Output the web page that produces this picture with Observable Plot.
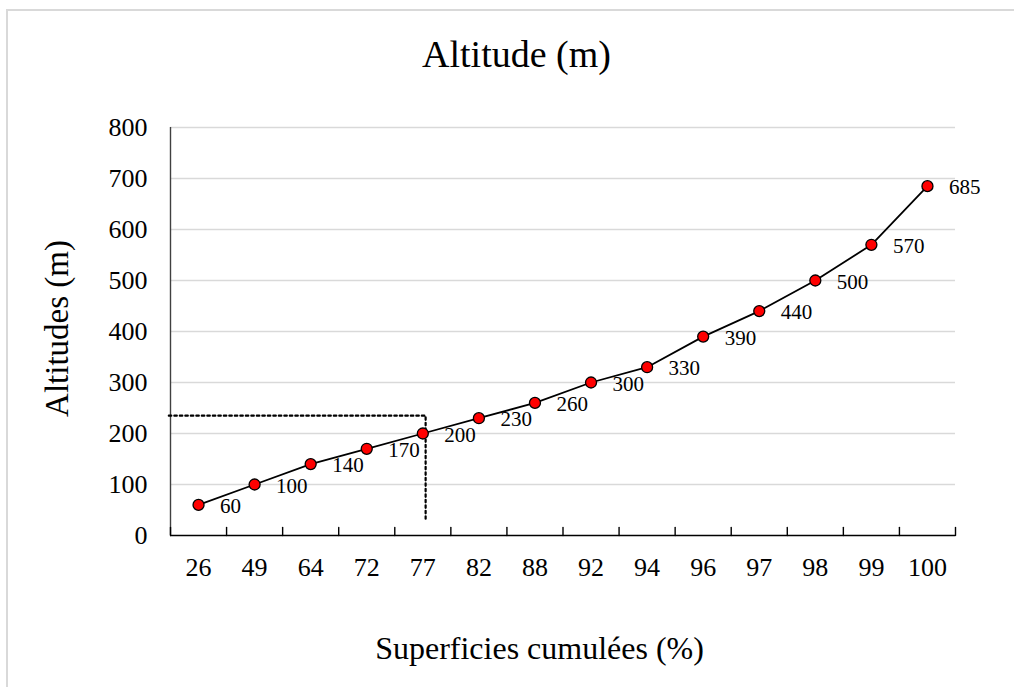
<!DOCTYPE html>
<html>
<head>
<meta charset="utf-8">
<script src="https://cdn.jsdelivr.net/npm/d3@7"></script>
<script src="https://cdn.jsdelivr.net/npm/@observablehq/plot@0.6"></script>
<style>
  html, body { margin: 0; padding: 0; background: #fff; }
  #chart { position: relative; width: 1014px; height: 687px; overflow: hidden; }
  #chart svg { position: absolute; left: 0; top: 0; }
  #frame { position: absolute; left: 6px; top: 9px; width: 1100px; height: 800px;
           border: 2px solid #d9d9d9; pointer-events: none; }
</style>
</head>
<body>
<div id="chart"></div>
<script>
// Cumulative area (%) categories and the altitude reached at each one
const categories = ["26", "49", "64", "72", "77", "82", "88", "92", "94", "96", "97", "98", "99", "100"];
const altitudes  = [60, 100, 140, 170, 200, 230, 260, 300, 330, 390, 440, 500, 570, 685];
const yTicks     = [0, 100, 200, 300, 400, 500, 600, 700, 800];

// Dotted reading guide (category index, altitude)
const guideX = [-0.53, 4.05, 4.05];
const guideY = [235, 235, 33];

const chartTitle = "Altitude (m)";
const xTitle = "Superficies cumulées (%)";
const yTitle = "Altitudes (m)";

const points = categories.map((c, i) => ({ i, cat: c, alt: altitudes[i] }));
const guide = guideX.map((x, k) => ({ x, y: guideY[k] }));
const boundaries = d3.range(-0.5, categories.length, 1);

// short upward stroke used for the inward category tick marks
const tickStroke = { draw(context, l) { context.moveTo(0, 0); context.lineTo(0, -l); } };

const serif = "'Liberation Serif', 'Times New Roman', serif";

const chart = Plot.plot({
  width: 1014,
  height: 687,
  marginLeft: 170,
  marginRight: 59,
  marginTop: 127,
  marginBottom: 152,
  style: { fontFamily: serif, color: "#000", background: "transparent", overflow: "visible" },
  x: { type: "linear", domain: [-0.5, categories.length - 0.5] },
  y: { domain: [0, 800] },
  marks: [
    Plot.ruleY(yTicks.filter(d => d > 0), { stroke: "#d9d9d9", strokeWidth: 1.4 }),
    Plot.ruleX([-0.5], { stroke: "#404040", strokeWidth: 1.4 }),
    Plot.ruleY([0], { stroke: "#000", strokeWidth: 1.6 }),
    Plot.vector(boundaries, { x: d => d, y: 0, length: 8, rotate: 0, anchor: "start",
                              shape: tickStroke, stroke: "#000", strokeWidth: 1.4 }),
    Plot.axisY({ ticks: yTicks, tickSize: 0, tickPadding: 23, fontSize: 26, label: null }),
    Plot.axisX({ ticks: d3.range(categories.length), tickFormat: i => categories[i],
                 tickSize: 0, tickPadding: 22, fontSize: 26, label: null }),
    Plot.line(guide, { x: "x", y: "y", stroke: "#000", strokeWidth: 2.2, strokeDasharray: "2.5,3" }),
    Plot.line(points, { x: "i", y: "alt", stroke: "#000", strokeWidth: 1.8 }),
    Plot.dot(points, { x: "i", y: "alt", r: 5.5, fill: "#ff0000", stroke: "#000", strokeWidth: 1.3 }),
    Plot.text(points, { x: "i", y: "alt", text: d => String(d.alt), dx: 21.5, dy: 1.5,
                        textAnchor: "start", lineAnchor: "middle", fontSize: 21, fill: "#000" }),
    Plot.text([chartTitle], { frameAnchor: "top", text: d => d, dx: -46.5, dy: -72.5,
                              fontSize: 38, textAnchor: "middle", lineAnchor: "middle", fill: "#000" }),
    Plot.text([xTitle], { frameAnchor: "bottom", text: d => d, dx: -23.5, dy: 113.4,
                          fontSize: 32, textAnchor: "middle", lineAnchor: "middle", fill: "#000" }),
    Plot.text([yTitle], { frameAnchor: "left", text: d => d, rotate: -90, dx: -112.6, dy: -3,
                          fontSize: 33, textAnchor: "middle", lineAnchor: "middle", fill: "#000" })
  ]
});

const host = document.getElementById("chart");
host.appendChild(chart);
const frame = document.createElement("div");
frame.id = "frame";
host.appendChild(frame);
</script>
</body>
</html>
